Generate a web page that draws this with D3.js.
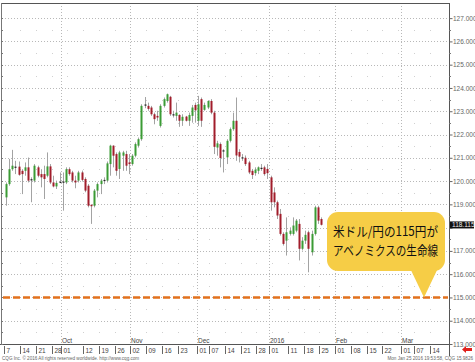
<!DOCTYPE html>
<html>
<head>
<meta charset="utf-8">
<script src="https://cdn.jsdelivr.net/npm/d3@7"></script>
<style>
body { margin: 0; background: #fff; }
svg { display: block; }
</style>
</head>
<body>
<svg id="chart" width="475" height="362"></svg>
<script>
/* USD/JPY daily candles, one per trading day starting Mon 7 Sep 2015 */
var firstDay = "2015-09-07";

var open = [119.30,119.87,120.51,120.62,120.62,120.44,120.44,120.59,120.08,120.02,
  120.59,120.30,120.30,120.23,120.63,119.94,119.77,119.97,119.98,119.94,
  120.51,120.37,120.02,120.02,120.37,120.09,119.80,118.98,118.94,119.59,
  119.87,120.02,120.02,120.73,121.52,121.16,120.52,121.09,121.16,120.80,
  120.73,121.09,121.52,121.80,123.29,123.23,123.16,122.87,122.80,122.37,
  123.23,123.44,123.62,122.87,122.80,122.84,122.59,122.77,122.59,122.80,
  123.27,122.59,123.52,123.06,123.16,123.44,122.94,121.44,121.59,121.32,
  121.02,121.73,122.23,122.59,121.25,121.02,121.00,120.80,120.44,120.34,
  120.44,120.57,120.59,120.52,120.16,119.51,119.09,118.59,117.73,117.44,
  117.73,117.73,117.87,118.16,117.09,117.44,117.80,116.94,117.73,118.87,
  118.37];
var high = [119.94,120.95,121.34,120.87,120.84,120.51,120.80,121.01,120.16,120.73,
  120.66,120.51,120.66,121.23,120.73,120.23,120.02,120.37,120.37,120.59,
  120.59,120.44,120.23,120.44,120.45,120.16,119.87,119.00,119.66,119.94,
  120.09,120.16,120.84,121.56,121.54,121.23,121.30,121.30,121.30,121.16,
  121.16,121.66,121.87,123.30,123.61,123.37,123.23,122.94,123.02,123.30,
  123.59,123.76,123.66,123.02,123.37,122.87,122.87,122.80,122.94,123.27,
  123.37,123.66,123.59,123.37,123.47,123.52,123.02,121.73,121.66,121.37,
  121.80,122.30,122.94,123.59,121.37,121.16,121.10,120.87,120.52,120.59,
  120.63,120.73,120.66,120.73,120.23,119.73,119.16,118.80,117.80,118.44,
  118.01,118.44,118.37,118.37,117.59,117.87,117.87,117.87,118.94,118.94,
  118.44];
var low = [118.94,119.80,120.44,120.30,120.23,119.44,120.23,119.94,119.09,119.94,
  120.16,119.73,119.23,120.16,119.87,119.73,119.66,119.91,118.73,119.87,
  120.23,119.94,119.69,119.94,119.98,119.52,118.87,118.16,118.87,119.30,
  119.44,119.87,119.94,120.23,120.59,120.23,120.09,120.44,120.44,120.30,
  120.66,121.02,121.44,121.73,123.13,123.02,122.80,122.44,122.59,122.30,
  123.16,123.37,122.80,122.73,122.59,122.33,122.37,122.56,122.37,122.51,
  122.51,122.37,122.33,123.02,123.09,122.87,121.16,121.09,120.59,120.37,
  120.73,121.66,122.16,120.87,120.80,120.87,120.65,120.30,120.09,120.23,
  120.30,120.44,120.23,120.09,118.73,118.87,118.37,117.66,117.23,116.80,
  117.66,117.66,117.80,116.59,117.02,117.30,116.08,116.80,117.66,118.16,
  118.09];
var close = [119.87,120.51,120.66,120.58,120.27,120.30,120.59,120.02,120.04,120.66,
  120.23,120.16,120.09,120.63,119.94,119.77,119.92,119.94,119.96,120.51,
  120.30,120.02,119.94,120.37,120.05,119.59,118.94,118.92,119.59,119.87,
  120.02,120.05,120.76,121.52,121.09,120.44,121.23,121.23,120.66,120.73,
  121.09,121.59,121.80,123.23,123.25,123.10,122.87,122.66,122.73,123.23,
  123.52,123.73,122.87,122.82,122.94,122.59,122.76,122.59,122.84,123.16,
  123.04,123.30,122.59,123.27,123.44,122.94,121.47,121.62,120.99,121.27,
  121.73,122.23,122.59,121.10,121.05,121.00,120.73,120.37,120.26,120.49,
  120.59,120.54,120.30,120.34,119.09,119.09,118.52,117.73,117.30,117.80,
  117.87,118.09,118.30,117.09,117.44,117.69,117.09,117.73,118.87,118.30,
  118.12];

var lastPrice = "118.115";
var lineLevel = 115;
var priceTicks = [113,114,115,116,117,118,119,120,121,122,123,124,125,126,127];

var tickDates = ["2015-09-07","2015-09-14","2015-09-21","2015-09-28","2015-10-01","2015-10-12",
  "2015-10-19","2015-10-26","2015-11-02","2015-11-09","2015-11-16","2015-11-23","2015-12-01",
  "2015-12-07","2015-12-14","2015-12-21","2015-12-28","2016-01-01","2016-01-11","2016-01-18",
  "2016-01-25","2016-02-01","2016-02-08","2016-02-15","2016-02-22","2016-03-01","2016-03-07",
  "2016-03-14"];
var tickLabels = ["7","14","21","28","01","12","19","26","02","09","16","23","01","07","14",
  "21","28","01","11","18","25","01","08","15","22","01","07","14"];
var monthDates = ["2015-10-01","2015-11-02","2015-12-01","2016-01-01","2016-02-01","2016-03-01"];
var monthLabels = ["Oct","Nov","Dec","2016","Feb","Mar"];
var weekDates = ["2015-09-14","2015-09-21","2015-09-28","2015-10-05","2015-10-12","2015-10-19",
  "2015-10-26","2015-11-02","2015-11-09","2015-11-16","2015-11-23","2015-11-30","2015-12-07",
  "2015-12-14","2015-12-21","2015-12-28","2016-01-04","2016-01-11","2016-01-18","2016-01-25",
  "2016-02-01","2016-02-08","2016-02-15","2016-02-22","2016-02-29","2016-03-07","2016-03-14"];

var calloutLines = ["米ドル/円の115円が", "アベノミクスの生命線"];

var parse = d3.timeParse("%Y-%m-%d");
var start = parse(firstDay);

// trading-day slot of a calendar date (weekdays only)
function slot(s) {
  var days = d3.timeDay.count(start, parse(s));
  return Math.floor(days / 7) * 5 + Math.min(days % 7, 5);
}

var svg = d3.select("#chart");
var pLeft = 2, pRight = 449, pTop = 3, pBottom = 344;

var x = d3.scaleLinear().domain([-1.27, 140.63]).range([pLeft, pRight]);
var y = d3.scaleLinear().domain([113, 127.65]).range([pBottom, pTop]);

var candles = open.map(function(o, i) {
  return {i: i, o: o, h: high[i], l: low[i], c: close[i]};
});

/* grid */
var grid = svg.append("g");
grid.selectAll("line.h").data(priceTicks.filter(function(v) { return v > 113; }))
  .enter().append("line")
  .attr("x1", pLeft).attr("x2", pRight)
  .attr("y1", function(v) { return Math.round(y(v)) + 0.5; })
  .attr("y2", function(v) { return Math.round(y(v)) + 0.5; })
  .attr("stroke", "#b8b8b8").attr("stroke-dasharray", "1,2");
grid.selectAll("line.v").data(monthDates)
  .enter().append("line")
  .attr("x1", function(d) { return Math.round(x(slot(d)) - 1.6) + 0.5; })
  .attr("x2", function(d) { return Math.round(x(slot(d)) - 1.6) + 0.5; })
  .attr("y1", pTop).attr("y2", pBottom)
  .attr("stroke", "#b8b8b8").attr("stroke-dasharray", "1,2");

// faint dots at weekly / half-yen crossings
var halfs = priceTicks.slice(0, -1).map(function(v) { return v + 0.5; });
weekDates.forEach(function(d) {
  grid.selectAll(null).data(halfs).enter().append("rect")
    .attr("x", Math.round(x(slot(d)) - 1.6)).attr("y", function(v) { return Math.round(y(v)); })
    .attr("width", 1).attr("height", 1).attr("fill", "#d0d0d0");
});

/* 115 yen line */
svg.append("line")
  .attr("x1", pLeft + 1).attr("x2", pRight - 1)
  .attr("y1", y(lineLevel)).attr("y2", y(lineLevel))
  .attr("stroke", "#e2711d").attr("stroke-width", 2.5).attr("stroke-dasharray", "7,3");

/* candles */
var cg = svg.append("g").selectAll("g").data(candles).enter().append("g");
cg.append("line")
  .attr("x1", function(d) { return Math.round(x(d.i)) + 0.5; })
  .attr("x2", function(d) { return Math.round(x(d.i)) + 0.5; })
  .attr("y1", function(d) { return y(d.h); })
  .attr("y2", function(d) { return y(d.l); })
  .attr("stroke", "#a3a3a3");
cg.append("rect")
  .attr("x", function(d) { return Math.round(x(d.i)) - 0.5; })
  .attr("width", 2)
  .attr("y", function(d) { return y(Math.max(d.o, d.c)); })
  .attr("height", function(d) { return Math.max(1.2, Math.abs(y(d.o) - y(d.c))); })
  .attr("fill", function(d) {
    if (Math.abs(d.c - d.o) < 0.06) return "#222";
    return d.c > d.o ? "#3b9b35" : "#a11d2b";
  });

/* frame */
svg.append("line").attr("x1", pLeft).attr("x2", pRight).attr("y1", pTop + 0.5).attr("y2", pTop + 0.5)
  .attr("stroke", "#555");
svg.append("line").attr("x1", pLeft - 0.5).attr("x2", pLeft - 0.5).attr("y1", pTop).attr("y2", pBottom)
  .attr("stroke", "#777");
svg.append("line").attr("x1", pRight + 0.5).attr("x2", pRight + 0.5).attr("y1", pTop).attr("y2", pBottom + 12)
  .attr("stroke", "#555");
svg.append("line").attr("x1", 0).attr("x2", pRight).attr("y1", pBottom + 0.5).attr("y2", pBottom + 0.5)
  .attr("stroke", "#555");

/* right price axis (the level under the last-price tag is hidden, as on the terminal) */
var axisR = d3.axisRight(y).tickValues(priceTicks).tickSize(3)
  .tickFormat(function(v) { return d3.format(".3f")(v); });
var ra = svg.append("g").attr("transform", "translate(" + (pRight + 0.5) + ",0)").call(axisR);
ra.select(".domain").remove();
ra.selectAll("line").attr("stroke", "#666");
ra.selectAll("text").attr("font-family", "Liberation Sans, Arial, sans-serif")
  .attr("font-size", 6.5).attr("fill", "#666").attr("x", 3.5);
ra.selectAll("text").filter(function(v) { return Math.abs(v - (+lastPrice)) < 0.4; }).remove();
// minor ticks on both sides
svg.append("g").selectAll("line").data(halfs).enter().append("line")
  .attr("x1", pRight).attr("x2", pRight + 2)
  .attr("y1", function(v) { return Math.round(y(v)) + 0.5; })
  .attr("y2", function(v) { return Math.round(y(v)) + 0.5; })
  .attr("stroke", "#777");
svg.append("g").selectAll("line").data(halfs.concat(priceTicks)).enter().append("line")
  .attr("x1", pLeft - 1).attr("x2", pLeft + 1)
  .attr("y1", function(v) { return Math.round(y(v)) + 0.5; })
  .attr("y2", function(v) { return Math.round(y(v)) + 0.5; })
  .attr("stroke", "#777");

// last price tag
svg.append("rect").attr("x", pRight + 1).attr("y", y(+lastPrice) - 3.5)
  .attr("width", 24).attr("height", 7).attr("fill", "#111");
svg.append("text").attr("x", pRight + 3).attr("y", y(+lastPrice) + 2.3)
  .attr("font-family", "Liberation Sans, Arial, sans-serif").attr("font-size", 6.5)
  .attr("fill", "#eee").text(lastPrice);

/* bottom date axis */
var tg = svg.append("g").selectAll("g").data(tickDates).enter().append("g")
  .attr("transform", function(d) { return "translate(" + (Math.round(x(slot(d)) - 1.6) + 0.5) + ",0)"; });
tg.append("line").attr("y1", pBottom + 2).attr("y2", pBottom + 10).attr("stroke", "#666");
tg.append("text").attr("x", 2).attr("y", pBottom + 9)
  .attr("font-family", "Liberation Sans, Arial, sans-serif").attr("font-size", 6.5)
  .attr("fill", "#444").text(function(d, i) { return tickLabels[i]; });

svg.append("g").selectAll("text").data(monthDates).enter().append("text")
  .attr("x", function(d) { return Math.round(x(slot(d)) - 1.6) + 1; })
  .attr("y", pBottom - 1)
  .attr("font-family", "Liberation Sans, Arial, sans-serif").attr("font-size", 6.5)
  .attr("fill", "#444").text(function(d, i) { return monthLabels[i]; });

/* footer */
svg.append("text").attr("x", 2).attr("y", 360)
  .attr("font-family", "Liberation Sans, Arial, sans-serif").attr("font-size", 4.6).attr("fill", "#666")
  .text("CQG Inc. © 2016 All rights reserved worldwide. http://www.cqg.com");
svg.append("text").attr("x", 473).attr("y", 360).attr("text-anchor", "end")
  .attr("font-family", "Liberation Sans, Arial, sans-serif").attr("font-size", 4.6).attr("fill", "#666")
  .text("Mon Jan 25 2016 19:53:58, CQG 15.9826");
svg.append("path").attr("d", "M462,349.5 L466,346 L466,348 L472,348 L472,351 L466,351 L466,353 Z")
  .attr("fill", "#e0201b");

/* callout */
var tipX = 424, tipY = y(lineLevel);
var co = svg.append("g");
co.append("rect").attr("x", 327).attr("y", 212).attr("width", 118).attr("height", 59)
  .attr("rx", 11).attr("fill", "#f6cd46");
co.append("path").attr("d", "M409,266 L439,266 L" + tipX + "," + tipY + " Z").attr("fill", "#f6cd46");
co.selectAll("text").data(calloutLines).enter().append("text")
  .attr("x", 333).attr("y", function(d, i) { return 236 + i * 19; })
  .attr("font-family", "Noto Sans CJK JP, sans-serif").attr("font-size", 13)
  .attr("textLength", 105).attr("lengthAdjust", "spacingAndGlyphs")
  .attr("fill", "#111").text(function(d) { return d; });
</script>
</body>
</html>
